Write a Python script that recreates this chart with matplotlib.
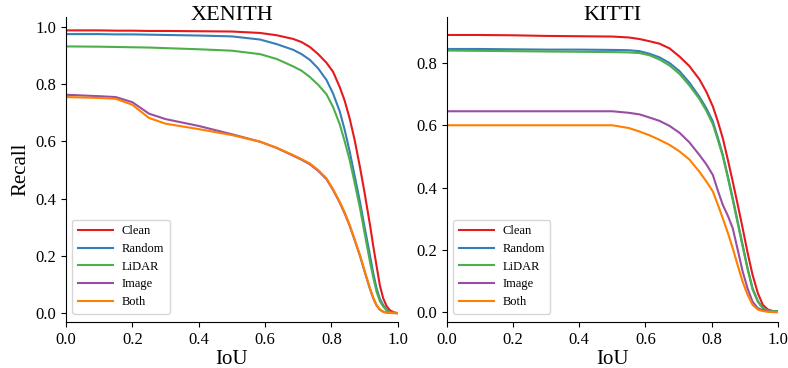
import matplotlib
matplotlib.use("Agg")
import matplotlib.pyplot as plt

plt.rcParams['font.family'] = ['Liberation Serif', 'DejaVu Serif']

labels = ["Clean", "Random", "LiDAR", "Image", "Both"]
colors = ["#e41a1c", "#377eb8", "#4daf4a", "#984ea3", "#ff7f00"]

# XENITH curves (IoU -> recall)
xen_iou = [0.0, 0.1, 0.15, 0.2, 0.25, 0.3, 0.4, 0.5, 0.585, 0.635, 0.685, 0.71, 0.735, 0.76,
           0.785, 0.805, 0.825, 0.84, 0.855, 0.87, 0.886, 0.9, 0.916, 0.926, 0.936, 0.946,
           0.956, 0.966, 0.976, 0.99, 1.0]
xen_clean = [0.988, 0.988, 0.987, 0.987, 0.986, 0.986, 0.985, 0.984, 0.979, 0.971, 0.958, 0.947,
             0.930, 0.905, 0.875, 0.843, 0.79, 0.742, 0.68, 0.605, 0.51, 0.42, 0.31, 0.235, 0.165,
             0.097, 0.052, 0.025, 0.010, 0.002, 0.0]
xen_random = [0.975, 0.975, 0.974, 0.974, 0.973, 0.972, 0.970, 0.967, 0.956, 0.940, 0.920, 0.905,
              0.885, 0.855, 0.815, 0.767, 0.705, 0.640, 0.565, 0.48, 0.389, 0.30, 0.203, 0.14, 0.087,
              0.05, 0.028, 0.012, 0.004, 0.001, 0.0]
xen_lidar = [0.932, 0.931, 0.930, 0.929, 0.928, 0.926, 0.922, 0.917, 0.905, 0.888, 0.862, 0.847,
             0.825, 0.798, 0.765, 0.72, 0.66, 0.60, 0.535, 0.455, 0.367, 0.28, 0.18, 0.125, 0.075,
             0.042, 0.023, 0.010, 0.003, 0.001, 0.0]
xen_image = [0.763, 0.758, 0.755, 0.737, 0.697, 0.678, 0.654, 0.625, 0.599, 0.577, 0.55, 0.536,
             0.52, 0.497, 0.468, 0.43, 0.386, 0.348, 0.305, 0.255, 0.20, 0.145, 0.085, 0.052, 0.027,
             0.012, 0.005, 0.002, 0.001, 0.0, 0.0]
xen_both = [0.755, 0.752, 0.749, 0.728, 0.682, 0.662, 0.643, 0.622, 0.599, 0.578, 0.552, 0.538,
            0.523, 0.50, 0.471, 0.433, 0.389, 0.352, 0.308, 0.258, 0.203, 0.148, 0.087, 0.054, 0.028,
            0.013, 0.005, 0.002, 0.001, 0.0, 0.0]

# KITTI curves
kit_iou = [0.0, 0.1, 0.2, 0.3, 0.4, 0.5, 0.55, 0.582, 0.612, 0.643, 0.673, 0.703, 0.733, 0.763,
           0.784, 0.804, 0.819, 0.834, 0.849, 0.864, 0.879, 0.894, 0.909, 0.924, 0.94, 0.955,
           0.97, 0.985, 1.0]
kit_clean = [0.89, 0.89, 0.889, 0.887, 0.886, 0.885, 0.882, 0.877, 0.870, 0.862, 0.847, 0.821,
             0.79, 0.748, 0.708, 0.660, 0.612, 0.558, 0.49, 0.419, 0.345, 0.269, 0.19, 0.119, 0.06,
             0.023, 0.008, 0.003, 0.003]
kit_random = [0.845, 0.845, 0.844, 0.843, 0.843, 0.842, 0.841, 0.838, 0.830, 0.818, 0.800, 0.774,
              0.737, 0.692, 0.655, 0.612, 0.56, 0.505, 0.437, 0.366, 0.29, 0.215, 0.14, 0.076, 0.035,
              0.013, 0.005, 0.002, 0.002]
kit_lidar = [0.84, 0.839, 0.838, 0.837, 0.836, 0.835, 0.834, 0.832, 0.825, 0.811, 0.792, 0.765,
             0.728, 0.685, 0.647, 0.603, 0.553, 0.50, 0.432, 0.36, 0.285, 0.21, 0.137, 0.072, 0.033,
             0.012, 0.004, 0.002, 0.002]
kit_image = [0.645, 0.645, 0.645, 0.645, 0.645, 0.645, 0.640, 0.635, 0.625, 0.614, 0.598, 0.576,
             0.545, 0.505, 0.475, 0.44, 0.39, 0.344, 0.31, 0.269, 0.20, 0.13, 0.075, 0.033, 0.012,
             0.006, 0.002, 0.0, 0.0]
kit_both = [0.60, 0.60, 0.60, 0.60, 0.60, 0.60, 0.591, 0.58, 0.568, 0.553, 0.537, 0.516, 0.49,
            0.451, 0.42, 0.387, 0.345, 0.301, 0.255, 0.205, 0.15, 0.097, 0.055, 0.023, 0.008,
            0.003, 0.001, 0.0, 0.0]

fig = plt.figure(figsize=(7.88, 3.68), dpi=100)
ax1 = fig.add_axes([0.0838, 0.125, 0.421, 0.829])
ax2 = fig.add_axes([0.567, 0.125, 0.420, 0.829])

panels = [
    (ax1, "XENITH", xen_iou, [xen_clean, xen_random, xen_lidar, xen_image, xen_both], (-0.031, 1.035)),
    (ax2, "KITTI", kit_iou, [kit_clean, kit_random, kit_lidar, kit_image, kit_both], (-0.032, 0.948)),
]

for ax, title, x, series, ylim in panels:
    for y, lab, c in zip(series, labels, colors):
        ax.plot(x, y, color=c, lw=1.5, label=lab)
    ax.set_xlim(0, 1)
    ax.set_ylim(*ylim)
    ax.set_title(title, fontsize=16, y=0.99, pad=0, va='baseline')
    ax.set_xlabel("IoU", fontsize=15, labelpad=2)
    ax.spines['top'].set_visible(False)
    ax.spines['right'].set_visible(False)
    ax.tick_params(labelsize=12)
    ax.legend(loc='lower left', fontsize=9, handlelength=2.8, borderpad=0.45,
              labelspacing=0.45, handletextpad=0.7, bbox_to_anchor=(0.0, 0.007))

ax1.set_ylabel("Recall", fontsize=15)

plt.savefig("out.png", dpi=100)
